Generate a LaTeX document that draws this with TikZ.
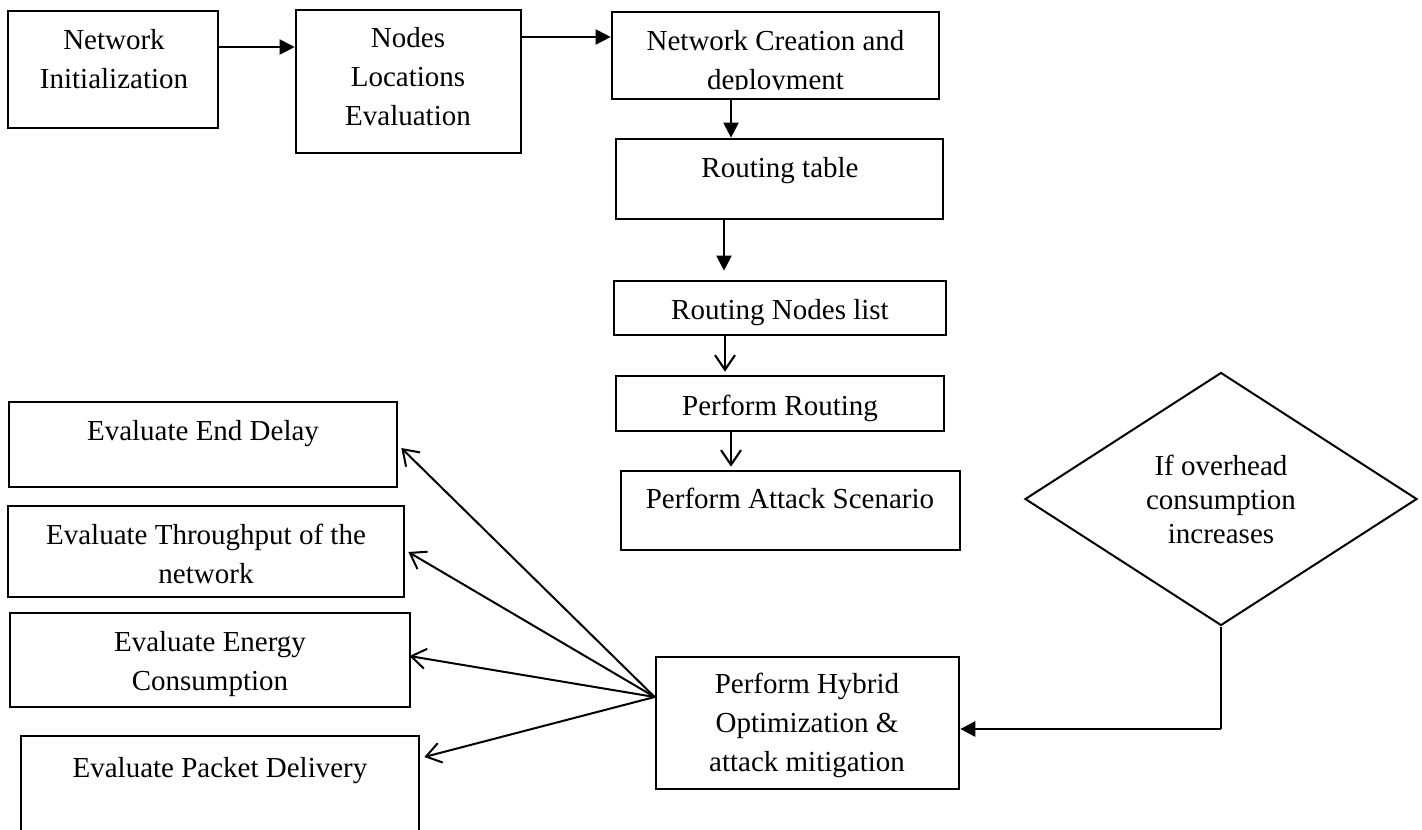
\documentclass[tikz,border=0pt]{standalone}
\usepackage{fontspec}
\setmainfont{Liberation Serif}
\usetikzlibrary{arrows.meta,fit,shapes.geometric,calc}
\begin{document}
\begin{tikzpicture}[x=0.75pt,y=-0.75pt,
  box/.style={draw,line width=2pt,inner sep=0pt},
  txt/.style={inner sep=0pt,align=center,font=\fontsize{21.75pt}{29.25pt}\selectfont},
  txtd/.style={inner sep=0pt,align=center,font=\fontsize{21.75pt}{25.5pt}\selectfont},
  fa/.style={line width=1.6pt,-{Triangle[length=11.25pt,width=11.25pt]}},
  oa/.style={line width=1.5pt,-{Straight Barb[length=11pt,width=15pt]}},
]
\useasboundingbox (0,0) rectangle (1422,829);
\clip (0,0) rectangle (1422,829);
\fill[white] (0,0) rectangle (1422,829);

% top row
\node[box,fit={(8,11) (218,128)}] (b1) {};
\node[txt] (t1) at (114,61.2) {\strut Network\\\strut Initialization};
\node[box,fit={(296,10) (521,153)}] (b2) {};
\node[txt] (t2) at (408,78.7) {\strut Nodes\\\strut Locations\\\strut Evaluation};
\node[box,fit={(612,12) (939,99)}] (b3) {};
\begin{scope}
\clip (612,12) rectangle (939,89.5);
\node[txt] (t3) at (775.5,61.7) {\strut Network Creation and\\\strut deployment};
\end{scope}

% central column
\node[box,fit={(616,139) (943,219)}] (b4) {};
\node[txt] (t4) at (780,169.2) {\strut Routing table};
\node[box,fit={(614,281) (946,335)}] (b5) {};
\node[txt] (t5) at (780,311.2) {\strut Routing Nodes list};
\node[box,fit={(616,376) (944,431)}] (b6) {};
\node[txt] (t6) at (780,407.2) {\strut Perform Routing};
\node[box,fit={(621,471) (960,550)}] (b7) {};
\node[txt] (t7) at (790,500.2) {\strut Perform Attack Scenario};

% hybrid box
\node[box,fit={(656,657) (959,789)}] (b8) {};
\node[txt] (t8) at (807,724.2) {\strut Perform Hybrid\\\strut Optimization \&\\\strut attack mitigation};

% decision
\node[draw,line width=1.5pt,shape=diamond,inner sep=0pt,minimum width=294pt,minimum height=189.75pt] (d) at (1221,499) {};
\node[txtd] (td) at (1221,502.2) {\strut If overhead\\\strut consumption\\\strut increases};

% evaluation boxes
\node[box,fit={(9,402) (397,487)}] (e1) {};
\node[txt] (te1) at (203,432.2) {\strut Evaluate End Delay};
\node[box,fit={(8,506) (404,597)}] (e2) {};
\node[txt] (te2) at (206,555.7) {\strut Evaluate Throughput of the\\\strut network};
\node[box,fit={(10,613) (410,707)}] (e3) {};
\node[txt] (te3) at (210,663.2) {\strut Evaluate Energy\\\strut Consumption};
\node[box,fit={(21,736) (419,850)}] (e4) {};
\node[txt] (te4) at (220,769.2) {\strut Evaluate Packet Delivery};

% connectors
\draw[fa] (b1.east |- 0,47) -- (b2.west |- 0,47);
\draw[fa] (b2.east |- 0,37) -- (b3.west |- 0,37);
\draw[fa] (b3.south -| 731,0) -- (b4.north -| 731,0);
\draw[fa] (b4.south -| 724,0) -- ($(b5.north -| 724,0)+(0,-9)$);
\draw[oa,line width=1.6pt] (b5.south -| 725,0) -- ($(b6.north -| 725,0)+(0,-3)$);
\draw[oa,line width=1.6pt] (b6.south -| 731,0) -- ($(b7.north -| 731,0)+(0,-3)$);

\coordinate (k) at (d.south |- 0,729);
\draw[line width=0.9pt] (d.south) -- (k);
\draw[fa,line width=2pt] (k) -- (b8.east |- k);

\coordinate (s) at (b8.west |- 0,697);
\draw[oa] (s) -- ($(e1.east |- 0,448)+(3,0)$);
\draw[oa] (s) -- ($(e2.east |- 0,552)+(3,0)$);
\draw[oa] (s) -- ($(e3.east |- 0,656)+(-2,0)$);
\draw[oa] (s) -- ($(e4.east |- 0,757)+(4,0)$);
\end{tikzpicture}
\end{document}
